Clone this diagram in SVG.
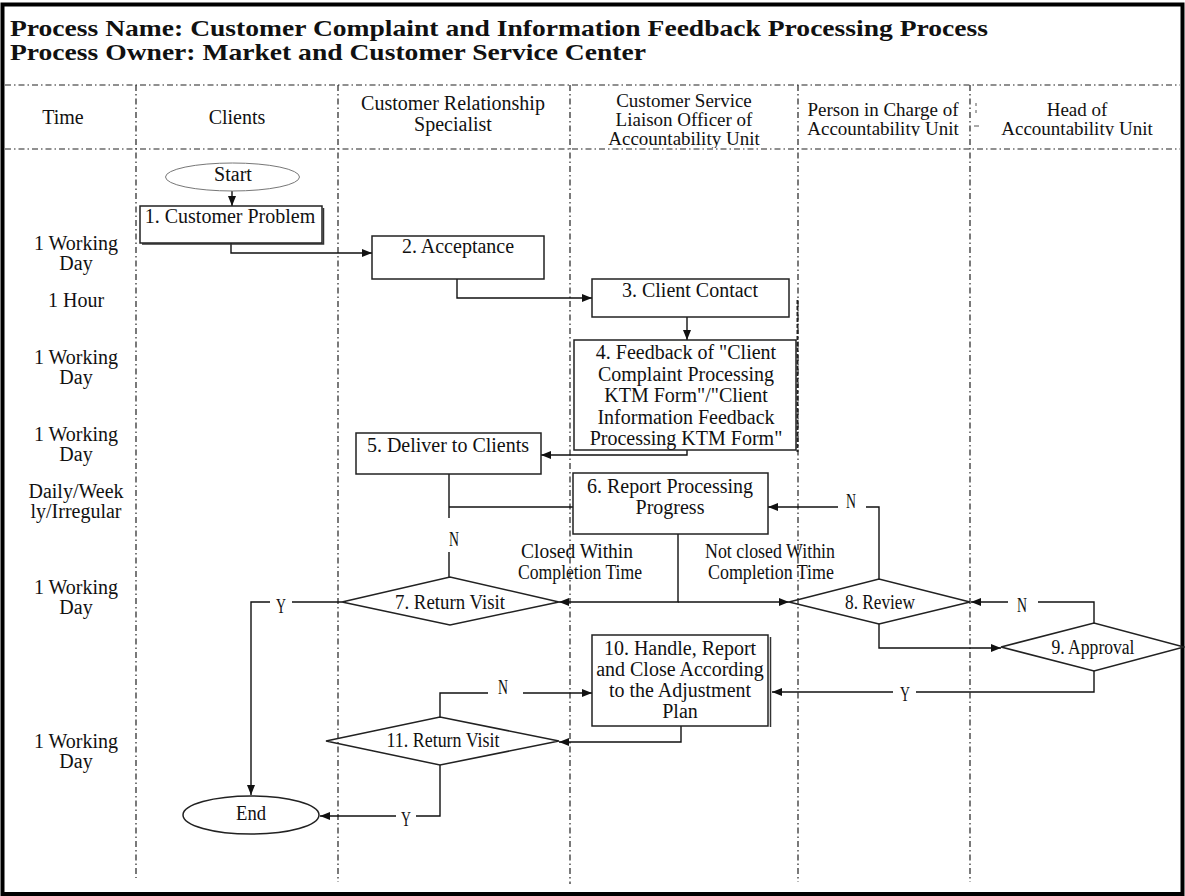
<svg xmlns="http://www.w3.org/2000/svg" width="1185" height="896" viewBox="0 0 1185 896">
<style>
.t{font-family:"Liberation Serif","Times New Roman",serif;fill:#111}
.title{font-size:24px;font-weight:bold}
.hd{font-size:20px;text-anchor:middle}
.hs{font-size:19px;text-anchor:middle}
.nd{font-size:20px;text-anchor:middle}
.cd{font-size:20px;text-anchor:middle}
.box{fill:#fff;stroke:#222;stroke-width:1.5}
.dia{fill:none;stroke:#222;stroke-width:1.5}
.grid{stroke:#222;stroke-width:1.2;stroke-dasharray:6 3 1.5 3;fill:none}
.cn{stroke:#111;stroke-width:1.4;fill:none}
.arr{marker-end:url(#ah)}
</style>
<defs>
<marker id="ah" markerUnits="userSpaceOnUse" markerWidth="11" markerHeight="9" refX="10" refY="4" orient="auto">
<path d="M0,0 L10,4 L0,8 z" fill="#111"/>
</marker>
<clipPath id="c1"><rect x="570" y="85" width="228" height="63"/></clipPath>
<clipPath id="c2"><rect x="798" y="85" width="385" height="51"/></clipPath>
</defs>
<rect width="1185" height="896" fill="#fff"/>
<g id="frame"><rect x="2.5" y="4.5" width="1180" height="889.5" fill="none" stroke="#000" stroke-width="4"/></g>
<g id="title">
<text class="t title" x="10" y="36" textLength="978" lengthAdjust="spacingAndGlyphs">Process Name: Customer Complaint and Information Feedback Processing Process</text>
<text class="t title" x="10" y="60" textLength="636" lengthAdjust="spacingAndGlyphs">Process Owner: Market and Customer Service Center</text>
</g>
<g id="lanes">
<line class="grid" x1="5" y1="85" x2="1180" y2="85"/>
<line class="grid" x1="5" y1="149" x2="1180" y2="149"/>
<line class="grid" x1="136" y1="85" x2="136" y2="878"/>
<line class="grid" x1="338" y1="85" x2="338" y2="882"/>
<line class="grid" x1="570" y1="85" x2="570" y2="884"/>
<line class="grid" x1="798" y1="85" x2="798" y2="882"/>
<line class="grid" x1="970" y1="85" x2="970" y2="882"/>
<line x1="797.5" y1="300" x2="797.5" y2="452" stroke="#222" stroke-width="2" stroke-dasharray="4 2"/>
<line x1="976" y1="103" x2="976" y2="106" stroke="#555" stroke-width="1"/>
<line x1="976" y1="110" x2="976" y2="113" stroke="#555" stroke-width="1"/>
<line x1="974" y1="126" x2="979" y2="126" stroke="#555" stroke-width="1"/>
</g>
<g id="header">
<text class="t hd" x="63" y="124">Time</text>
<text class="t hd" x="237" y="124">Clients</text>
<text class="t hd" x="453" y="110">Customer Relationship</text>
<text class="t hd" x="453" y="131">Specialist</text>
<g clip-path="url(#c1)">
<text class="t hs" x="684" y="107">Customer Service</text>
<text class="t hs" x="684" y="126">Liaison Officer of</text>
<text class="t hs" x="684" y="145">Accountability Unit</text>
</g>
<g clip-path="url(#c2)">
<text class="t hs" x="883" y="116">Person in Charge of</text>
<text class="t hs" x="883" y="135">Accountability Unit</text>
<text class="t hs" x="1077" y="116">Head of</text>
<text class="t hs" x="1077" y="135">Accountability Unit</text>
</g>
</g>
<g id="time">
<text class="t hd" x="76" y="250">1 Working</text><text class="t hd" x="76" y="270">Day</text>
<text class="t hd" x="76" y="307">1 Hour</text>
<text class="t hd" x="76" y="364">1 Working</text><text class="t hd" x="76" y="384">Day</text>
<text class="t hd" x="76" y="441">1 Working</text><text class="t hd" x="76" y="461">Day</text>
<text class="t hd" x="76" y="498">Daily/Week</text><text class="t hd" x="76" y="518">ly/Irregular</text>
<text class="t hd" x="76" y="594">1 Working</text><text class="t hd" x="76" y="614">Day</text>
<text class="t hd" x="76" y="748">1 Working</text><text class="t hd" x="76" y="768">Day</text>
</g>
<g id="connectors">
<path class="cn arr" d="M232,191 V206"/>
<path class="cn arr" d="M231,243 V253 H372"/>
<path class="cn arr" d="M457,279 V298 H592"/>
<path class="cn arr" d="M687,317 V340"/>
<path class="cn arr" d="M687,450 V455 H541"/>
<path class="cn" d="M449,474 V518"/>
<path class="cn" d="M449,507 H573" stroke-width="2"/>
<path class="cn" d="M449,552 V578"/>
<path class="cn arr" d="M678,534 V602 H559"/>
<path class="cn arr" d="M678,602 H789"/>
<path class="cn" d="M879,579 V507 H866"/>
<path class="cn arr" d="M838,507 H768"/>
<path class="cn" d="M1094,623 V602 H1038"/>
<path class="cn arr" d="M1008,602 H971"/>
<path class="cn arr" d="M879,624 V648 H1001"/>
<path class="cn" d="M1094,671 V692 H916"/>
<path class="cn arr" d="M893,692 H772"/>
<path class="cn" d="M342,602 H292"/>
<path class="cn arr" d="M270,602 H251 V795"/>
<path class="cn arr" d="M681,726 V742 H559"/>
<path class="cn" d="M440,717 V693 H488"/>
<path class="cn arr" d="M523,693 H592"/>
<path class="cn" d="M440,765 V816 H416"/>
<path class="cn arr" d="M396,816 H320"/>
<text class="t cd" x="454" y="546" textLength="10" lengthAdjust="spacingAndGlyphs">N</text>
<text class="t cd" x="851" y="508" textLength="10" lengthAdjust="spacingAndGlyphs">N</text>
<text class="t cd" x="1022" y="612" textLength="10" lengthAdjust="spacingAndGlyphs">N</text>
<text class="t cd" x="503" y="694" textLength="10" lengthAdjust="spacingAndGlyphs">N</text>
<text class="t cd" x="905" y="701" textLength="10" lengthAdjust="spacingAndGlyphs">Y</text>
<text class="t cd" x="281" y="613" textLength="10" lengthAdjust="spacingAndGlyphs">Y</text>
<text class="t cd" x="406" y="826" textLength="10" lengthAdjust="spacingAndGlyphs">Y</text>
<text class="t cd" x="577" y="558" textLength="112" lengthAdjust="spacingAndGlyphs">Closed Within</text>
<text class="t cd" x="580" y="579" textLength="124" lengthAdjust="spacingAndGlyphs">Completion Time</text>
<text class="t cd" x="770" y="558" textLength="130" lengthAdjust="spacingAndGlyphs">Not closed Within</text>
<text class="t cd" x="771" y="579" textLength="126" lengthAdjust="spacingAndGlyphs">Completion Time</text>
</g>
<g id="n-start">
<ellipse cx="232.5" cy="177" rx="67" ry="14" fill="#fff" stroke="#777" stroke-width="1"/>
<text class="t nd" x="233" y="181">Start</text>
</g>
<g id="n1">
<path d="M142,244 H323.5 V208" fill="none" stroke="#333" stroke-width="1.5"/>
<rect class="box" x="140" y="206" width="182" height="37"/>
<text class="t nd" x="230" y="223">1. Customer Problem</text>
</g>
<g id="n2">
<rect class="box" x="372" y="236" width="172" height="43"/>
<text class="t nd" x="458" y="253">2. Acceptance</text>
</g>
<g id="n3">
<rect class="box" x="592" y="279" width="197" height="38"/>
<text class="t nd" x="690" y="297">3. Client Contact</text>
</g>
<g id="n4">
<rect class="box" x="574" y="340" width="222" height="110"/>
<text class="t nd" x="686" y="359">4. Feedback of "Client</text>
<text class="t nd" x="686" y="381">Complaint Processing</text>
<text class="t nd" x="686" y="402">KTM Form"/"Client</text>
<text class="t nd" x="686" y="424">Information Feedback</text>
<text class="t nd" x="686" y="445">Processing KTM Form"</text>
</g>
<g id="n5">
<rect class="box" x="356" y="433" width="185" height="41"/>
<text class="t nd" x="448" y="452">5. Deliver to Clients</text>
</g>
<g id="n6">
<rect class="box" x="573" y="473" width="195" height="61"/>
<text class="t nd" x="670" y="493">6. Report Processing</text>
<text class="t nd" x="670" y="514">Progress</text>
</g>
<g id="n7">
<polygon class="dia" points="342,602 450,577 559,602 450,625"/>
<text class="t cd" x="450" y="609" textLength="110" lengthAdjust="spacingAndGlyphs">7. Return Visit</text>
</g>
<g id="n8">
<polygon class="dia" points="789,602 879,579 970,602 879,624"/>
<text class="t cd" x="880" y="609" textLength="70" lengthAdjust="spacingAndGlyphs">8. Review</text>
</g>
<g id="n9">
<polygon class="dia" points="1001,647 1094,623 1184,647 1094,671"/>
<text class="t cd" x="1093" y="654" textLength="83" lengthAdjust="spacingAndGlyphs">9. Approval</text>
</g>
<g id="n10">
<line x1="770.5" y1="637" x2="770.5" y2="727" stroke="#333" stroke-width="1.5"/>
<rect class="box" x="592" y="635" width="176" height="91"/>
<text class="t nd" x="680" y="655">10. Handle, Report</text>
<text class="t nd" x="680" y="676">and Close According</text>
<text class="t nd" x="680" y="697">to the Adjustment</text>
<text class="t nd" x="680" y="718">Plan</text>
</g>
<g id="n11">
<polygon class="dia" points="326,741 440,717 559,741 440,765"/>
<text class="t cd" x="443" y="747" textLength="113" lengthAdjust="spacingAndGlyphs">11. Return Visit</text>
</g>
<g id="n-end">
<ellipse cx="251" cy="815" rx="68" ry="19" fill="#fff" stroke="#222" stroke-width="1.5"/>
<text class="t cd" x="251" y="820" textLength="30" lengthAdjust="spacingAndGlyphs">End</text>
</g>
</svg>
